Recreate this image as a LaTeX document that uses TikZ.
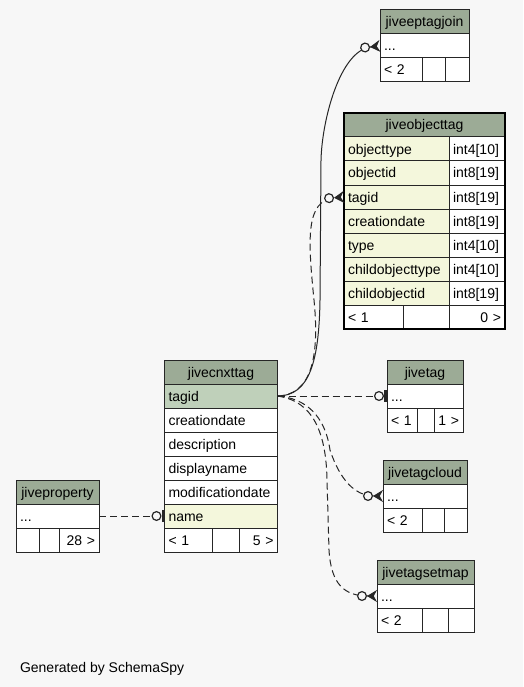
\documentclass[tikz,border=0pt]{standalone}
\usepackage{fontspec}
\setmainfont{Liberation Sans}
\usetikzlibrary{arrows.meta,positioning,fit}
\definecolor{bgGrey}{HTML}{F7F7F7}
\definecolor{hdrGreen}{HTML}{9CAB96}
\definecolor{keyGreen}{HTML}{BFD0BA}
\definecolor{colYellow}{HTML}{F4F7DC}
\newcommand{\tblfont}{\fontsize{14}{16}\selectfont}
\tikzstyle{cell} = [rectangle, draw=black!85, line width=1pt, outer sep=0pt, inner xsep=4pt, inner ysep=0pt, minimum height=24pt, text height=11pt, text depth=1pt, align=left, font=\tblfont]
\tikzstyle{hdrCell} = [cell, fill=hdrGreen, align=center]
\tikzstyle{keyCell} = [cell, fill=keyGreen]
\tikzstyle{colCell} = [cell, fill=colYellow]
\tikzstyle{rowCell} = [cell, fill=white]
\tikzstyle{rel} = [draw=black!85, line width=1pt]
\tikzstyle{relD} = [rel, dash pattern=on 7pt off 4pt]
\tikzstyle{many} = [-{Circle[fill=bgGrey,length=10pt,width=10pt,line width=1.2pt] Stealth[reversed,length=10pt,width=12pt]}]
\tikzstyle{one} = [-{Circle[fill=bgGrey,length=10pt,width=10pt,line width=1.2pt] Bar[width=12pt,line width=3pt]}]

\begin{document}
\begin{tikzpicture}[x=1pt, y=-1pt, node distance=0pt]
    \useasboundingbox[fill=bgGrey] (0,0) rectangle (523,687);

    % jiveeptagjoin
    \node (eptag) [hdrCell, text width=81pt] at (424.5,22) {jiveeptagjoin};
    \node (eptagRow) [rowCell, text width=81pt, below=of eptag] {...};
    \node (eptagF1) [rowCell, text width=34pt, anchor=north west] at (eptagRow.south west) {< 2};
    \node (eptagF2) [rowCell, text width=15pt, right=of eptagF1] {};
    \node (eptagF3) [rowCell, text width=16pt, right=of eptagF2] {};

    % jiveobjecttag
    \node (objtag) [hdrCell, text width=153pt] at (424.5,125) {jiveobjecttag};
    \node (objK1) [colCell, text width=97pt, anchor=north west] at (objtag.south west) {objecttype};
    \node (objT1) [rowCell, text width=48pt, right=of objK1] {int4[10]};
    \node (objK2) [colCell, text width=97pt, below=of objK1] {objectid};
    \node (objT2) [rowCell, text width=48pt, right=of objK2] {int8[19]};
    \node (objK3) [colCell, text width=97pt, below=of objK2] {tagid};
    \node (objT3) [rowCell, text width=48pt, right=of objK3] {int8[19]};
    \node (objK4) [colCell, text width=97pt, below=of objK3] {creationdate};
    \node (objT4) [rowCell, text width=48pt, right=of objK4] {int8[19]};
    \node (objK5) [colCell, text width=97pt, below=of objK4] {type};
    \node (objT5) [rowCell, text width=48pt, right=of objK5] {int4[10]};
    \node (objK6) [colCell, text width=97pt, below=of objK5] {childobjecttype};
    \node (objT6) [rowCell, text width=48pt, right=of objK6] {int4[10]};
    \node (objK7) [colCell, text width=97pt, below=of objK6] {childobjectid};
    \node (objT7) [rowCell, text width=48pt, right=of objK7] {int8[19]};
    \node (objF1) [rowCell, text width=51pt, anchor=north west] at (objK7.south west) {< 1};
    \node (objF2) [rowCell, text width=38pt, right=of objF1] {};
    \node (objF3) [rowCell, text width=48pt, right=of objF2, align=right] {0 >};
    \node (objFrame) [fit=(objtag)(objF3), draw=black, line width=2.6pt, inner sep=0pt] {};

    % jivecnxttag
    \node (cnx) [hdrCell, text width=105pt] at (221,372) {jivecnxttag};
    \node (cnxTagid) [keyCell, text width=105pt, below=of cnx] {tagid};
    \node (cnxCreated) [rowCell, text width=105pt, below=of cnxTagid] {creationdate};
    \node (cnxDescr) [rowCell, text width=105pt, below=of cnxCreated] {description};
    \node (cnxDisplay) [rowCell, text width=105pt, below=of cnxDescr] {displayname};
    \node (cnxModified) [rowCell, text width=105pt, below=of cnxDisplay] {modificationdate};
    \node (cnxName) [colCell, text width=105pt, below=of cnxModified] {name};
    \node (cnxF1) [rowCell, text width=40pt, anchor=north west] at (cnxName.south west) {< 1};
    \node (cnxF2) [rowCell, text width=19pt, right=of cnxF1] {};
    \node (cnxF3) [rowCell, text width=30pt, right=of cnxF2, align=right] {5 >};

    % jivetag
    \node (tag) [hdrCell, text width=68pt] at (425,372) {jivetag};
    \node (tagRow) [rowCell, text width=68pt, below=of tag] {...};
    \node (tagF1) [rowCell, text width=22pt, anchor=north west] at (tagRow.south west) {< 1};
    \node (tagF2) [rowCell, text width=9pt, right=of tagF1] {};
    \node (tagF3) [rowCell, text width=21pt, right=of tagF2, align=right] {1 >};

    % jivetagcloud
    \node (cloud) [hdrCell, text width=76pt] at (425,472) {jivetagcloud};
    \node (cloudRow) [rowCell, text width=76pt, below=of cloud] {...};
    \node (cloudF1) [rowCell, text width=31pt, anchor=north west] at (cloudRow.south west) {< 2};
    \node (cloudF2) [rowCell, text width=14pt, right=of cloudF1] {};
    \node (cloudF3) [rowCell, text width=15pt, right=of cloudF2] {};

    % jivetagsetmap
    \node (setmap) [hdrCell, text width=89pt] at (425.5,572) {jivetagsetmap};
    \node (setmapRow) [rowCell, text width=89pt, below=of setmap] {...};
    \node (setmapF1) [rowCell, text width=37pt, anchor=north west] at (setmapRow.south west) {< 2};
    \node (setmapF2) [rowCell, text width=18pt, right=of setmapF1] {};
    \node (setmapF3) [rowCell, text width=18pt, right=of setmapF2] {};

    % jiveproperty
    \node (prop) [hdrCell, text width=75pt] at (57.5,492) {jiveproperty};
    \node (propRow) [rowCell, text width=75pt, below=of prop] {...};
    \node (propF1) [rowCell, text width=15pt, anchor=north west] at (propRow.south west) {};
    \node (propF2) [rowCell, text width=12pt, right=of propF1] {};
    \node (propF3) [rowCell, text width=32pt, right=of propF2, align=right] {28 >};

    \node (credit) [anchor=base west, font=\tblfont] at (16.5,672) {Generated by SchemaSpy};

    % relations
    \draw [rel, many] (cnxTagid.east) .. controls (310,396) and (319,360) .. (320,300) -- (321,160) .. controls (322,120) and (340,50) .. (eptagRow.west);
    \draw [relD, many] (cnxTagid.east) .. controls (310,395) and (320,360) .. (314,300) .. controls (308,240) and (305,200) .. (objK3.west);
    \draw [relD, one] (cnxTagid.east) -- (tagRow.west);
    \draw [relD, many] (cnxTagid.east) .. controls (305,398) and (325,415) .. (330,450) .. controls (340,480) and (355,496) .. (cloudRow.west);
    \draw [relD, many] (cnxTagid.east) .. controls (305,400) and (326,420) .. (327,480) -- (329,550) .. controls (331,585) and (345,596) .. (setmapRow.west);
    \draw [relD, one] (propRow.east) -- (cnxName.west);
\end{tikzpicture}
\end{document}
